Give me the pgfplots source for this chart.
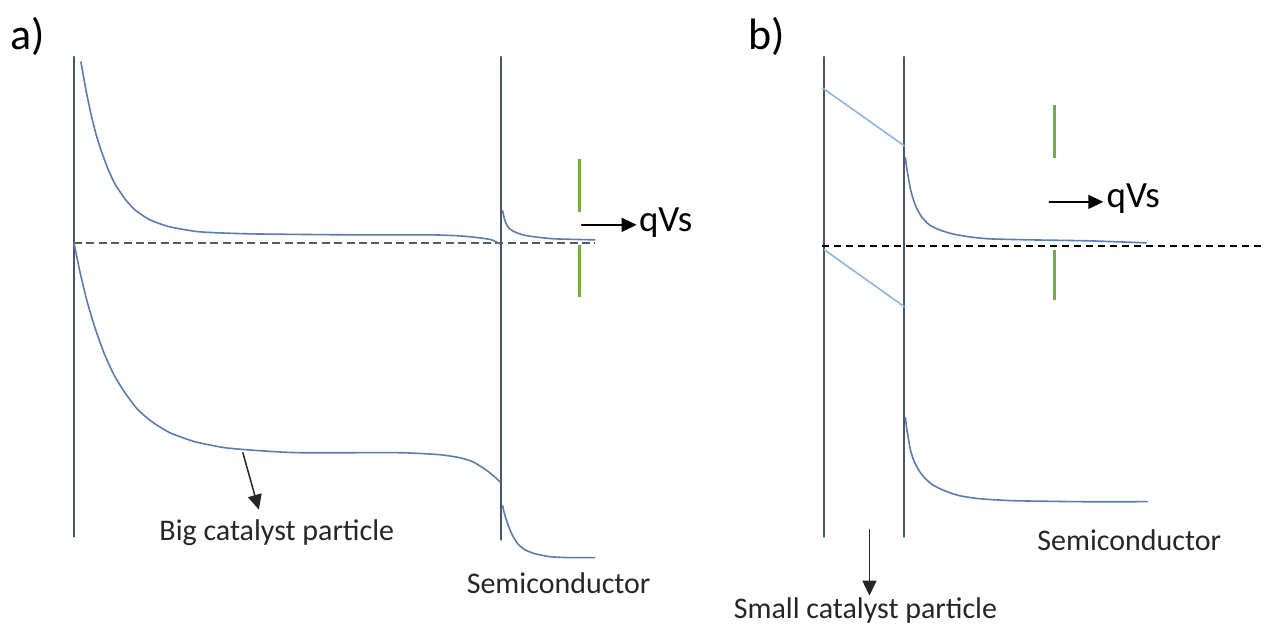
\documentclass[border=0pt]{standalone}
\usepackage{pgfplots}
\pgfplotsset{compat=1.18}
\usepackage{fontspec}
\setmainfont{Carlito}
\usetikzlibrary{arrows.meta}

\definecolor{frameline}{HTML}{4A5568}
\definecolor{band}{HTML}{5A7DB0}
\definecolor{lightband}{HTML}{8DB6E4}
\definecolor{vsgreen}{HTML}{70AD47}
\definecolor{fermi}{HTML}{5A5A5A}
\definecolor{txt}{HTML}{262626}

\begin{document}
\begin{tikzpicture}
\begin{axis}[
    width=632pt, height=314pt,
    scale only axis,
    hide axis,
    xmin=0, xmax=1264,
    ymin=0, ymax=628,
    y dir=reverse,
    clip=false,
    every axis plot/.append style={line cap=round},
]
\path (axis cs:0,0) rectangle (axis cs:1264,628);

% ---------- panel a ----------
% interfaces
\addplot[frameline, line width=1pt] coordinates {(74,57) (74,537)};
\addplot[frameline, line width=1pt] coordinates {(501,57) (501,540)};
% Fermi level
\addplot[fermi, line width=1.1pt, dash pattern=on 4pt off 2.2pt, line cap=butt] coordinates {(74,243) (595,243)};
% catalyst bands
\addplot[band, line width=0.8pt, smooth, tension=0.35] coordinates {
  (81,62) (86,90) (91,114) (96,134) (101,150) (108,169) (115,184) (125,199)
  (135,210) (150,220) (170,227) (200,232) (250,234) (350,235) (430,235)
  (460,236) (480,238) (492,240) (500,244)};
\addplot[band, line width=0.8pt, smooth, tension=0.35] coordinates {
  (74,243) (80,272) (87,301) (95,328) (104,353) (114,375) (125,393) (138,410)
  (152,422) (170,433) (195,442) (225,448) (260,451) (300,453) (400,453)
  (440,455) (460,458) (473,462) (483,468) (490,473) (497,479) (500,482)};
% semiconductor bands
\addplot[band, line width=0.8pt, smooth, tension=0.35] coordinates {
  (503,211) (504,216) (505,220) (507,225) (510,229) (515,232) (523,235)
  (535,237) (555,239) (595,240)};
\addplot[band, line width=0.8pt, smooth, tension=0.35] coordinates {
  (503,506) (504,511) (506,518) (509,527) (513,536) (518,544) (525,550)
  (535,554) (550,557) (570,558) (595,558)};
% band bending marks
\addplot[vsgreen, line width=1.5pt, line cap=butt] coordinates {(580,159) (580,212)};
\addplot[vsgreen, line width=1.5pt, line cap=butt] coordinates {(580,245) (580,297)};
% arrows
\addplot[black, line width=0.75pt, -{Triangle[length=7.5pt,width=7pt]}] coordinates {(582,225) (637,225)};
\addplot[black!85, line width=0.75pt, -{Triangle[length=7.5pt,width=7pt]}] coordinates {(243,453) (259,510)};
% labels
\node[font=\fontsize{22}{26}\selectfont, anchor=center] at (axis cs:28,36) {a)};
\node[font=\fontsize{18.5}{22}\selectfont, anchor=west, inner sep=0pt] at (axis cs:639,223) {qVs};
\node[font=\fontsize{15}{18}\selectfont, text=txt] at (axis cs:277,533) {Big catalyst particle};
\node[font=\fontsize{15}{18}\selectfont, text=txt] at (axis cs:559,584) {Semiconductor};

% ---------- panel b ----------
\addplot[frameline, line width=1pt] coordinates {(825,57) (825,537)};
\addplot[frameline, line width=1pt] coordinates {(905,57) (905,537)};
\addplot[black, line width=0.8pt, dash pattern=on 3.5pt off 2.5pt, line cap=butt] coordinates {(823,246) (1264,246)};
% thin catalyst bands
\addplot[lightband, line width=0.8pt] coordinates {(823,88) (905,146)};
\addplot[lightband, line width=0.8pt] coordinates {(825,250) (905,307)};
% semiconductor bands
\addplot[band, line width=0.8pt, smooth, tension=0.35] coordinates {
  (906,158) (907,166) (909,178) (911,189) (914,200) (918,210) (923,218)
  (930,225) (940,230) (953,234) (970,237) (990,239) (1030,240) (1090,241) (1147,243)};
\addplot[band, line width=0.8pt, smooth, tension=0.35] coordinates {
  (906,418) (907,427) (909,439) (911,450) (914,460) (919,470) (925,478)
  (933,485) (945,491) (960,496) (980,499) (1013,501) (1080,502) (1148,502)};
\addplot[vsgreen, line width=1.5pt, line cap=butt] coordinates {(1055,105) (1055,158)};
\addplot[vsgreen, line width=1.5pt, line cap=butt] coordinates {(1055,250) (1055,300)};
\addplot[black, line width=0.75pt, -{Triangle[length=7.5pt,width=7pt]}] coordinates {(1050,202) (1104,202)};
\addplot[black!85, line width=0.75pt, -{Triangle[length=7.5pt,width=7pt]}] coordinates {(870,530) (870,596)};
\node[font=\fontsize{22}{26}\selectfont, anchor=center] at (axis cs:767,36) {b)};
\node[font=\fontsize{18.5}{22}\selectfont, anchor=west, inner sep=0pt] at (axis cs:1107,199) {qVs};
\node[font=\fontsize{15}{18}\selectfont, text=txt] at (axis cs:1130,541) {Semiconductor};
\node[font=\fontsize{15}{18}\selectfont, text=txt] at (axis cs:866,611) {Small catalyst particle};
\end{axis}
\end{tikzpicture}
\end{document}
